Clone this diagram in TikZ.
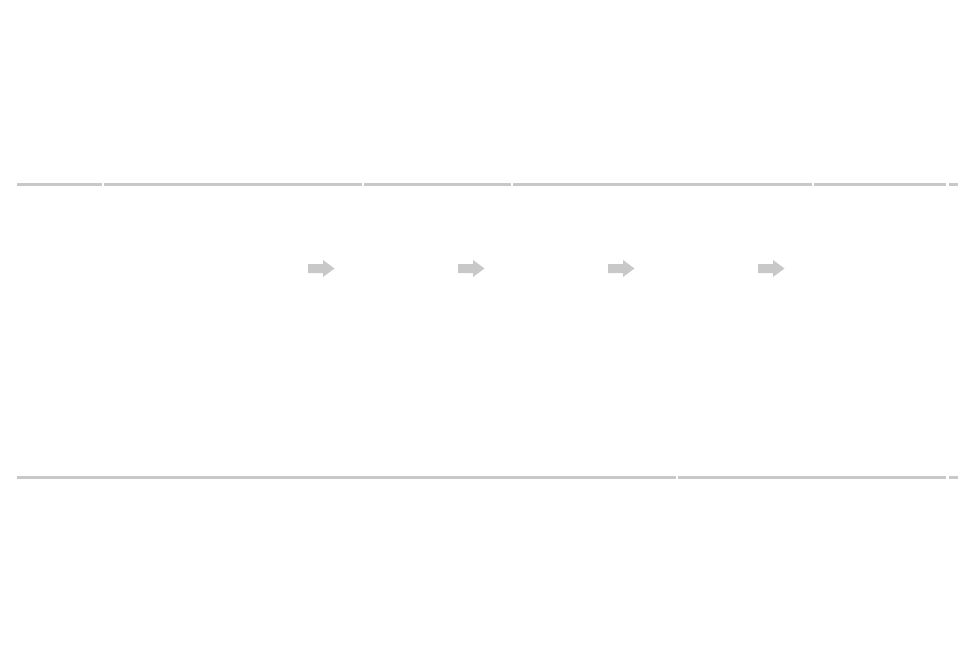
\documentclass[tikz,border=0pt]{standalone}
\usepackage{tikz}

\definecolor{rulegray}{RGB}{200,200,200}
\definecolor{arrowgray}{RGB}{200,200,200}

\begin{document}
\begin{tikzpicture}[x=1pt,y=-1pt,
					rule/.style={draw=rulegray,line width=2.4pt},
					flowarrow/.style={fill=arrowgray}]
					\useasboundingbox (0,0) rectangle (976,669);
					% top rule
					\foreach \a/\b in {17/102,104/362,364/511,513/812,814/946,949/958}
					\draw[rule] (\a,184.5) -- (\b,184.5);
					% bottom rule
					\foreach \a/\b in {17/676,678/946,949/958}
					\draw[rule] (\a,477.5) -- (\b,477.5);
					% arrows
					\foreach \x in {308,458,608,758}
					\fill[flowarrow] (\x,264) -- (\x+15,264) -- (\x+15,260) -- (\x+26.5,268.5)
					-- (\x+15,277) -- (\x+15,273) -- (\x,273) -- cycle;
					\end{tikzpicture}
\end{document}
